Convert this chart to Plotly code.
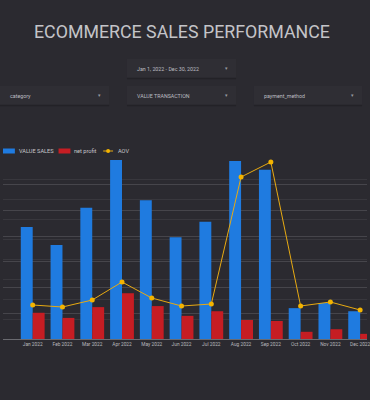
import plotly.graph_objects as go

months = ["Jan 2022", "Feb 2022", "Mar 2022", "Apr 2022", "May 2022", "Jun 2022",
          "Jul 2022", "Aug 2022", "Sep 2022", "Oct 2022", "Nov 2022", "Dec 2022"]
value_sales = [2.18e6, 1.83e6, 2.55e6, 3.48e6, 2.70e6, 1.98e6, 2.28e6, 3.46e6, 3.29e6, 0.60e6, 0.70e6, 0.54e6]
net_profit = [0.51e6, 0.41e6, 0.62e6, 0.89e6, 0.64e6, 0.45e6, 0.54e6, 0.37e6, 0.35e6, 0.14e6, 0.19e6, 0.10e6]
aov = [340, 320, 390, 570, 410, 330, 350, 1620, 1770, 330, 370, 290]

W, H = 370, 400
BG = "#2b2a30"
TXT = "#c8c8cc"
FONT = "Roboto"
BLUE, RED, YELLOW = "#1f7be0", "#c61d23", "#f4b400"

fig = go.Figure()
fig.add_trace(go.Bar(x=list(range(12)), y=value_sales, name="VALUE SALES",
                     marker=dict(color=BLUE, line=dict(width=0))))
fig.add_trace(go.Bar(x=list(range(12)), y=net_profit, name="net profit",
                     marker=dict(color=RED, line=dict(width=0))))
fig.add_trace(go.Scatter(x=list(range(12)), y=aov, name="AOV", yaxis="y2",
                         mode="lines+markers",
                         line=dict(color="#e8aa12", width=1),
                         marker=dict(color=YELLOW, size=5)))

def px(x):
    return x / W

def py(y):
    return 1 - y / H

shapes = []
annotations = []

# Title
annotations.append(dict(x=px(183), y=py(32), xref="paper", yref="paper",
                        text="ECOMMERCE SALES PERFORMANCE", showarrow=False,
                        font=dict(family=FONT, size=17.8, color="#c4c4c8"),
                        xanchor="center", yanchor="middle"))

controls = [
    (128, 238, 59, 78, "Jan 1, 2022 - Dec 30, 2022"),
    (0, 110, 86, 105, "category"),
    (128, 238, 86, 105, "VALUE TRANSACTION"),
    (256, 365, 86, 105, "payment_method"),
]
for x0, x1, y0, y1, label in controls:
    shapes.append(dict(type="rect", xref="paper", yref="paper",
                       x0=px(x0), x1=px(x1), y0=py(y1), y1=py(y0),
                       fillcolor="#2f2e34", line=dict(width=0), layer="below"))
    shapes.append(dict(type="line", xref="paper", yref="paper",
                       x0=px(x0), x1=px(x1), y0=py(y1 + 0.5), y1=py(y1 + 0.5),
                       line=dict(color="#232227", width=1.5), layer="below"))
    annotations.append(dict(x=px(x0 + 8), y=py((y0 + y1) / 2), xref="paper", yref="paper",
                            text=label, showarrow=False, xanchor="left", yanchor="middle",
                            font=dict(family=FONT, size=5.3, color="#bdbdc2")))
    annotations.append(dict(x=px(x1 - 10), y=py((y0 + y1) / 2), xref="paper", yref="paper",
                            text="▾", showarrow=False, xanchor="center", yanchor="middle",
                            font=dict(family=FONT, size=4.5, color="#9a9aa0")))

# Legend (drawn manually to match compact spacing)
ly = 151
shapes.append(dict(type="rect", xref="paper", yref="paper",
                   x0=px(3), x1=px(15), y0=py(ly + 2.5), y1=py(ly - 2.5),
                   fillcolor=BLUE, line=dict(width=0)))
annotations.append(dict(x=px(17), y=py(ly), xref="paper", yref="paper", text="VALUE SALES",
                        showarrow=False, xanchor="left", yanchor="middle",
                        font=dict(family=FONT, size=5.6, color=TXT)))
shapes.append(dict(type="rect", xref="paper", yref="paper",
                   x0=px(59), x1=px(71), y0=py(ly + 2.5), y1=py(ly - 2.5),
                   fillcolor=RED, line=dict(width=0)))
annotations.append(dict(x=px(73), y=py(ly), xref="paper", yref="paper", text="net profit",
                        showarrow=False, xanchor="left", yanchor="middle",
                        font=dict(family=FONT, size=5.6, color=TXT)))
shapes.append(dict(type="line", xref="paper", yref="paper",
                   x0=px(104), x1=px(114), y0=py(ly), y1=py(ly),
                   line=dict(color="#e8aa12", width=1)))
shapes.append(dict(type="circle", xref="paper", yref="paper",
                   x0=px(107), x1=px(111), y0=py(ly + 2), y1=py(ly - 2),
                   fillcolor=YELLOW, line=dict(width=0)))
annotations.append(dict(x=px(117), y=py(ly), xref="paper", yref="paper", text="AOV",
                        showarrow=False, xanchor="left", yanchor="middle",
                        font=dict(family=FONT, size=5.6, color=TXT)))

fig.update_layout(
    width=W, height=H,
    paper_bgcolor=BG, plot_bgcolor=BG,
    margin=dict(l=0, r=0, t=0, b=0),
    barmode="group", bargap=0.2, bargroupgap=0,
    font=dict(family=FONT, color=TXT, size=6),
    showlegend=False,
    xaxis=dict(domain=[0.008, 1], range=[-1.0, 11.23],
               tickmode="array", tickvals=list(range(12)), ticktext=months,
               tickfont=dict(family=FONT, size=4.8, color="#b8b8bd"),
               ticklabeloverflow="allow",
               showgrid=False, zeroline=False, showline=True,
               linecolor="#6a6a70", linewidth=1, ticks=""),
    yaxis=dict(domain=[py(339), py(159)], range=[0, 3.5e6], dtick=0.5e6,
               showticklabels=False, gridcolor="#46454b", gridwidth=1,
               zeroline=False, showline=False),
    yaxis2=dict(overlaying="y", side="right", range=[0, 1800], dtick=200,
                showticklabels=False, gridcolor="#38373d", gridwidth=1,
                zeroline=False, showline=False),
    shapes=shapes,
    annotations=annotations,
)

fig.write_html("out.html", config={"displayModeBar": False},
               post_script="document.body.style.margin='0';document.body.style.overflow='hidden';document.body.style.background='#2b2a30';")
